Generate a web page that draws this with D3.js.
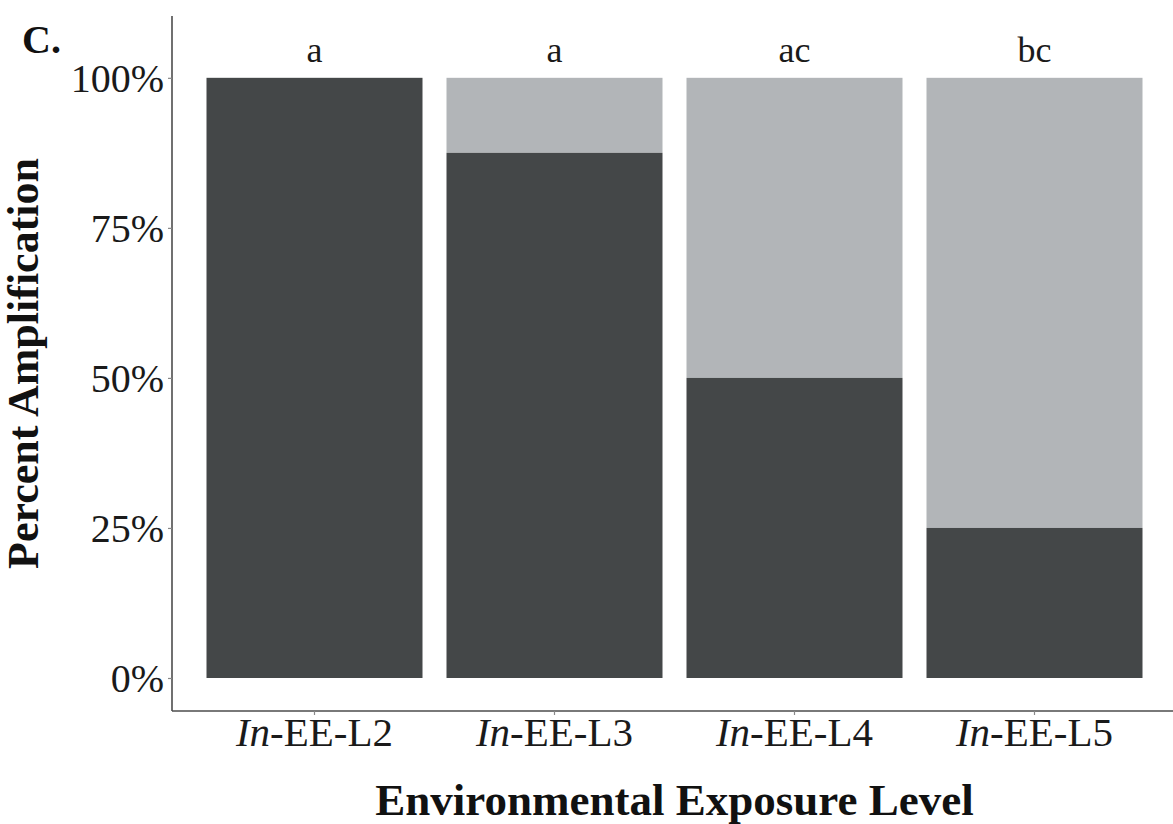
<!DOCTYPE html>
<html>
<head>
<meta charset="utf-8">
<script src="https://cdn.jsdelivr.net/npm/d3@7"></script>
<style>
  html, body { margin: 0; padding: 0; background: #fff; }
  svg { display: block; }
  svg text, svg tspan { font-family: "Liberation Serif", "Times New Roman", serif !important; }
</style>
</head>
<body>
<svg id="chart" width="1173" height="824"></svg>
<script>
// Exposure levels (italic prefix + plain suffix) and share of samples amplified
const levelPrefix = ["In", "In", "In", "In"];
const levelSuffix = ["-EE-L2", "-EE-L3", "-EE-L4", "-EE-L5"];
const categories = ["In-EE-L2", "In-EE-L3", "In-EE-L4", "In-EE-L5"];
const amplified = [1.0, 0.875, 0.5, 0.25];
const groupLetters = ["a", "a", "ac", "bc"];
const yTicks = [0, 0.25, 0.5, 0.75, 1.0];
const yTickLabels = ["0%", "25%", "50%", "75%", "100%"];

const svg = d3.select("#chart");
const panel = { left: 170.5, right: 1178.5, top: 16, bottom: 711 };

const x = d3.scaleBand()
  .domain(categories)
  .range([panel.left, panel.right])
  .paddingInner(0.1)
  .paddingOuter(0.15);

const y = d3.scaleLinear()
  .domain([-0.055, 1.103])
  .range([panel.bottom, panel.top]);

const colDark = "#444748";
const colLight = "#b2b5b8";

// stacked bars: amplified on the bottom, remainder on top
const bars = svg.append("g");
categories.forEach((c, i) => {
  bars.append("rect")
    .attr("x", x(c)).attr("width", x.bandwidth())
    .attr("y", y(1)).attr("height", y(amplified[i]) - y(1))
    .attr("fill", colLight);
  bars.append("rect")
    .attr("x", x(c)).attr("width", x.bandwidth())
    .attr("y", y(amplified[i])).attr("height", y(0) - y(amplified[i]))
    .attr("fill", colDark);
});

// significance letters
svg.append("g").selectAll("text")
  .data(categories)
  .join("text")
  .attr("x", c => x(c) + x.bandwidth() / 2)
  .attr("y", 62)
  .attr("text-anchor", "middle")
  .attr("font-size", 36)
  .attr("fill", "#1a1a1a")
  .text((c, i) => groupLetters[i]);

// y axis
const yAxis = svg.append("g")
  .attr("transform", `translate(${panel.left + 1.5},0)`)
  .call(d3.axisLeft(y).tickValues(yTicks).tickFormat((d, i) => yTickLabels[i]).tickSize(4).tickPadding(4));
yAxis.select(".domain").attr("d", `M0,${panel.top}V${panel.bottom}`)
  .attr("stroke", "#4d4d4d").attr("stroke-width", 1.6);
yAxis.selectAll(".tick line").attr("stroke", "#888").attr("stroke-width", 1.2);
yAxis.selectAll(".tick text")
  .attr("font-size", 40).attr("fill", "#1a1a1a").attr("dy", "0.33em");

// x axis
const xAxis = svg.append("g")
  .attr("transform", `translate(0,${panel.bottom})`)
  .call(d3.axisBottom(x).tickSize(4).tickFormat(""));
xAxis.select(".domain").attr("d", `M${panel.left + 1.5},0H${panel.right}`)
  .attr("stroke", "#4d4d4d").attr("stroke-width", 1.6);
xAxis.selectAll(".tick line").attr("stroke", "#888").attr("stroke-width", 1.2);
xAxis.selectAll(".tick").each(function(c, i) {
  const t = d3.select(this).append("text")
    .attr("y", 35)
    .attr("text-anchor", "middle")
    .attr("font-size", 41).attr("fill", "#1a1a1a");
  t.append("tspan").attr("font-style", "italic").text(levelPrefix[i]);
  t.append("tspan").text(levelSuffix[i]);
});

// axis titles
svg.append("text")
  .attr("x", (panel.left + panel.right) / 2)
  .attr("y", 815)
  .attr("text-anchor", "middle")
  .attr("font-size", 45).attr("font-weight", "bold").attr("fill", "#111")
  .text("Environmental Exposure Level");

svg.append("text")
  .attr("transform", `translate(38,${(panel.top + panel.bottom) / 2}) rotate(-90)`)
  .attr("text-anchor", "middle")
  .attr("font-size", 44).attr("font-weight", "bold").attr("fill", "#111")
  .text("Percent Amplification");

// panel tag
svg.append("text")
  .attr("x", 22).attr("y", 53)
  .attr("font-size", 40).attr("font-weight", "bold").attr("fill", "#111")
  .text("C.");
</script>
</body>
</html>
